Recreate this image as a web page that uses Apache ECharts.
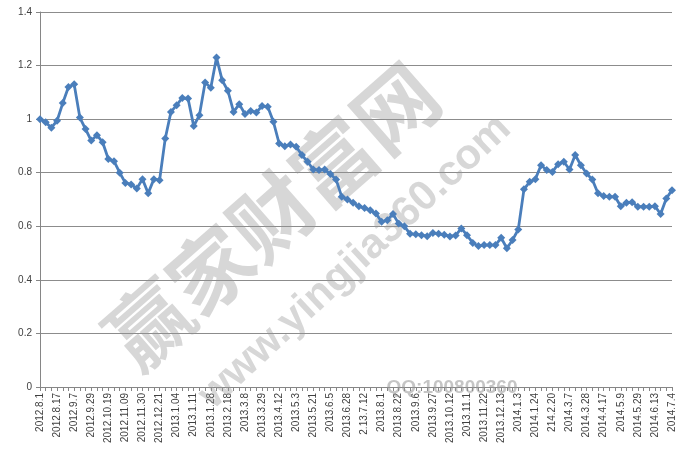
<!DOCTYPE html>
<html>
<head>
<meta charset="utf-8">
<script src="https://cdn.jsdelivr.net/npm/echarts@6/dist/echarts.min.js"></script>
<style>html,body{margin:0;padding:0;background:#fff}#c{width:680px;height:453px}</style>
</head>
<body>
<div id="c"></div>
<script>
// tick labels shown on the category axis (every third point)
var tickLabels = ['2012.8.1','2012.8.17','2012.9.7','2012.9.29','2012.10.19','2012.11.09','2012.11.30','2012.12.21',
  '2013.1.04','2013.1.11','2013.1.28','2013.2.18','2013.3.8','2013.3.29','2013.4.12','2013.5.3','2013.5.21','2013.6.5',
  '2013.6.28','2.13.7.12','2013.8.1','2013.8.22','2013.9.6','2013.9.27','2013.10.12','2013.11.1','2013.11.22','2013.12.13',
  '2014.1.3','2014.1.24','214.2.20','2014.3.7','2014.3.28','2014.4.17','2014.5.9','2014.5.29','2014.6.13','2014.7.4'];

// series values
var values = [
  1.0, 0.988, 0.968, 0.994, 1.06, 1.12, 1.13, 1.006, 0.963, 0.92,
  0.94, 0.914, 0.851, 0.843, 0.80, 0.762, 0.756, 0.741, 0.776, 0.723,
  0.776, 0.772, 0.928, 1.027, 1.052, 1.079, 1.077, 0.974, 1.015, 1.137,
  1.117, 1.23, 1.145, 1.106, 1.027, 1.056, 1.019, 1.03, 1.025, 1.049,
  1.046, 0.99, 0.909, 0.899, 0.905, 0.897, 0.866, 0.841, 0.812, 0.81,
  0.812, 0.795, 0.775, 0.71, 0.70, 0.688, 0.675, 0.668, 0.66, 0.648,
  0.617, 0.623, 0.646, 0.61, 0.60, 0.572, 0.570, 0.567, 0.563, 0.575,
  0.572, 0.568, 0.562, 0.566, 0.592, 0.567, 0.538, 0.526, 0.530, 0.530,
  0.530, 0.557, 0.518, 0.549, 0.588, 0.738, 0.766, 0.776, 0.828, 0.81,
  0.803, 0.832, 0.841, 0.812, 0.866, 0.828, 0.797, 0.775, 0.723, 0.713,
  0.710, 0.710, 0.675, 0.688, 0.690, 0.673, 0.673, 0.673, 0.675, 0.646,
  0.704, 0.735
];

var yTicks = {min: 0, max: 1.4, interval: 0.2};

var categories = values.map(function (v, i) { return i % 3 === 0 ? tickLabels[i / 3] : ''; });

var chart = echarts.init(document.getElementById('c'), null, {renderer: 'canvas'});
var font = '"Liberation Sans", Arial, sans-serif';
chart.setOption({
  animation: false,
  backgroundColor: '#ffffff',
  grid: {left: 40, right: 8, top: 12, bottom: 66, containLabel: false},
  xAxis: {
    type: 'category',
    data: categories,
    boundaryGap: false,
    axisLine: {lineStyle: {color: '#868686', width: 1}},
    axisTick: {show: true, interval: 0, length: 4, lineStyle: {color: '#868686'}},
    axisLabel: {interval: 2, rotate: 90, fontSize: 10, color: '#404040', fontFamily: font, margin: 6},
    splitLine: {show: false}
  },
  yAxis: {
    type: 'value',
    min: yTicks.min, max: yTicks.max, interval: yTicks.interval,
    axisLine: {show: true, lineStyle: {color: '#868686', width: 1}},
    axisTick: {show: true, length: 4, lineStyle: {color: '#868686'}},
    axisLabel: {fontSize: 10, color: '#404040', fontFamily: font, margin: 8,
      formatter: function (v) { return String(Math.round(v * 10) / 10); }},
    splitLine: {show: true, lineStyle: {color: '#8c8c8c', width: 1}}
  },
  graphic: [
    {type: 'text', x: 272, y: 216, rotation: 0.72, z: 1, silent: true,
      style: {text: '赢家财富网', font: 'bold 82px "Noto Sans CJK SC", sans-serif', fill: 'rgba(150,150,150,0.38)', align: 'center', verticalAlign: 'middle'}},
    {type: 'text', x: 355, y: 262, rotation: 0.75, z: 1, silent: true,
      style: {text: 'www.yingjia360.com', font: 'bold 42px "Liberation Sans", Arial, sans-serif', fill: 'rgba(150,150,150,0.38)', align: 'center', verticalAlign: 'middle'}},
    {type: 'text', x: 452, y: 388, z: 1, silent: true,
      style: {text: 'QQ:100800360', font: 'bold 19px "Liberation Sans", Arial, sans-serif', fill: 'rgba(150,150,150,0.55)', align: 'center', verticalAlign: 'middle'}}
  ],
  series: [{
    type: 'line',
    data: values,
    z: 5,
    symbol: 'diamond',
    symbolSize: 8,
    showAllSymbol: true,
    lineStyle: {color: '#4A7EBB', width: 2.8},
    itemStyle: {color: '#4A7EBB'}
  }]
});
</script>
</body>
</html>
